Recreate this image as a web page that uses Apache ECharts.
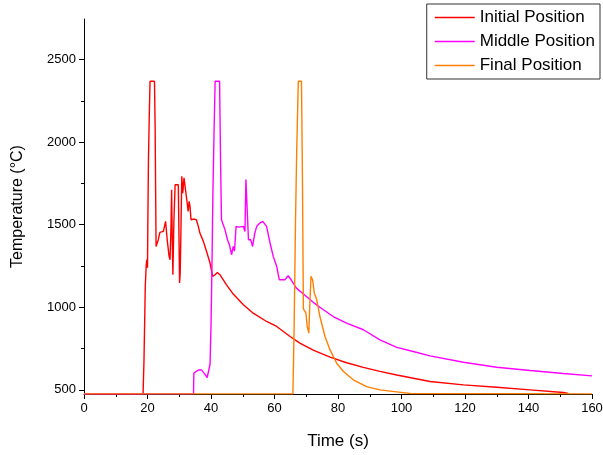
<!DOCTYPE html>
<html>
<head>
<meta charset="utf-8">
<script src="https://cdn.jsdelivr.net/npm/echarts@6/dist/echarts.min.js"></script>
<style>
  html, body { margin: 0; padding: 0; background: #fff; }
  #main { width: 603px; height: 455px; }
</style>
</head>
<body>
<div id="main"></div>
<script>
// series names
const seriesNames = ['Initial Position', 'Middle Position', 'Final Position']

// [time (s), temperature (°C)]
const initialPosition = [
  [0, 476], [18.6, 476], [18.9, 682], [19.3, 1126], [19.6, 1258], [19.8, 1288], [20.0, 1240],
  [20.1, 1490], [20.3, 1894], [20.6, 2197], [20.8, 2368], [22.2, 2368], [22.4, 2096],
  [22.7, 1368], [23.4, 1409], [23.9, 1453], [25.0, 1459], [25.7, 1520], [26.2, 1409],
  [26.8, 1308], [27.1, 1288], [27.4, 1490], [27.6, 1712], [27.8, 1400], [28.0, 1197],
  [28.3, 1512], [28.7, 1742], [29.1, 1752], [29.7, 1742], [29.9, 1449], [30.1, 1147],
  [30.3, 1207], [30.5, 1429], [30.8, 1793], [31.1, 1691], [31.5, 1783], [32.1, 1776],
  [32.5, 1631], [32.8, 1580], [33.1, 1641], [33.4, 1611], [33.7, 1530], [34.7, 1534],
  [35.4, 1530], [36.0, 1490], [36.5, 1449], [37.6, 1399], [38.6, 1338], [39.7, 1268],
  [40.5, 1187], [41.3, 1197], [42.0, 1211], [42.8, 1197], [44.9, 1136], [47.0, 1080],
  [50.2, 1015], [53.3, 964], [57.5, 914], [60.7, 884], [64.9, 823], [68.0, 783],
  [72.2, 740], [77.5, 698], [82.7, 664], [88.0, 636], [93.2, 612], [98.5, 590],
  [109, 551], [119.5, 530], [130, 516], [140.5, 500], [151, 484], [152.5, 478]
]

const middlePosition = [
  [0, 476], [34.5, 476], [34.6, 601], [35.0, 611], [36.0, 620], [37.0, 621], [37.8, 601],
  [38.8, 575], [39.7, 655], [40.0, 884], [40.3, 1247], [40.6, 1691], [41.0, 2096],
  [41.3, 2368], [42.7, 2368], [43.0, 1900], [43.3, 1530], [44.4, 1470], [45.2, 1409],
  [45.8, 1379], [46.5, 1318], [47.0, 1368], [47.4, 1340], [47.9, 1490], [48.7, 1485],
  [50.2, 1490], [50.7, 1459], [51.0, 1773], [51.5, 1776], [51.8, 1409], [52.5, 1409],
  [53.1, 1368], [53.8, 1449], [54.4, 1490], [55.4, 1510], [56.3, 1520], [57.5, 1490],
  [58.6, 1389], [59.6, 1308], [60.7, 1247], [61.5, 1167], [63.3, 1167], [64.3, 1191],
  [65.4, 1162], [66.9, 1116], [69.1, 1080], [72.2, 1030], [75.4, 985], [78.5, 944],
  [82.7, 904], [88.0, 864], [93.2, 803], [98.5, 757], [103.7, 732], [109, 706],
  [119.5, 667], [130, 637], [140.5, 617], [151, 599], [160, 585]
]

const finalPosition = [
  [0, 476], [65.8, 476], [66.2, 900], [66.6, 1500], [67.0, 1950], [67.5, 2368], [68.5, 2368],
  [68.8, 1780], [69.1, 990], [69.9, 964], [70.3, 884], [70.8, 843], [71.1, 1005],
  [71.5, 1187], [72.0, 1167], [72.5, 1090], [73.3, 1045], [74.3, 944], [75.9, 823],
  [77.5, 742], [79.6, 661], [81.7, 611], [84.8, 561], [89.0, 520], [93.2, 500],
  [98.5, 488], [102.7, 478], [103, 476], [160, 476]
]

// axis ticks
const yLabelValues = [500, 1000, 1500, 2000, 2500]
const yMinorValues = [750, 1250, 1750, 2250]

const colors = ['#ff0000', '#ff00ff', '#ff8000']
const font = 'Liberation Sans, Arial, sans-serif'

const chart = echarts.init(document.getElementById('main'))

const lineSeries = [initialPosition, middlePosition, finalPosition].map((data, i) => ({
  name: seriesNames[i],
  type: 'line',
  data: data,
  symbol: 'none',
  showSymbol: false,
  animation: false,
  lineStyle: { color: colors[i], width: 1.4 },
  itemStyle: { color: colors[i] }
}))

chart.setOption({
  backgroundColor: '#fff',
  animation: false,
  grid: {
    left: 84, right: 11, top: 19, bottom: 61,
    outerBoundsMode: 'none'
  },
  legend: {
    orient: 'vertical',
    right: 3,
    top: 4,
    padding: [5, 5, 5, 8],
    icon: 'rect',
    itemWidth: 40,
    itemHeight: 1.5,
    itemGap: 7,
    borderColor: '#333',
    borderWidth: 1,
    textStyle: { fontFamily: font, fontSize: 17, color: '#000', lineHeight: 17 },
    data: seriesNames
  },
  xAxis: {
    type: 'value',
    min: 0,
    max: 160,
    interval: 20,
    name: 'Time (s)',
    nameLocation: 'middle',
    nameGap: 39,
    nameTextStyle: { fontFamily: font, fontSize: 17, color: '#000' },
    axisLine: { lineStyle: { color: '#000', width: 1 } },
    axisTick: { length: 5, lineStyle: { color: '#000' } },
    minorTick: { show: true, splitNumber: 2, length: 3, lineStyle: { color: '#000' } },
    axisLabel: { fontFamily: font, fontSize: 13, color: '#000', margin: 8 },
    splitLine: { show: false }
  },
  yAxis: [
    {
      type: 'value',
      min: 475,
      max: 2745,
      name: 'Temperature (°C)',
      nameLocation: 'middle',
      nameGap: 58,
      nameTextStyle: { fontFamily: font, fontSize: 16, color: '#000' },
      axisLine: { show: true, lineStyle: { color: '#000', width: 1 } },
      axisTick: { show: true, length: 5, customValues: yLabelValues, lineStyle: { color: '#000' } },
      axisLabel: {
        fontFamily: font, fontSize: 13, color: '#000', margin: 8,
        customValues: yLabelValues,
        formatter: v => String(v)
      },
      splitLine: { show: false }
    },
    {
      type: 'value',
      min: 475,
      max: 2745,
      position: 'left',
      axisLine: { show: false },
      axisTick: { show: true, length: 3, customValues: yMinorValues, lineStyle: { color: '#000' } },
      axisLabel: { show: false },
      splitLine: { show: false }
    }
  ],
  series: lineSeries
})
</script>
</body>
</html>
